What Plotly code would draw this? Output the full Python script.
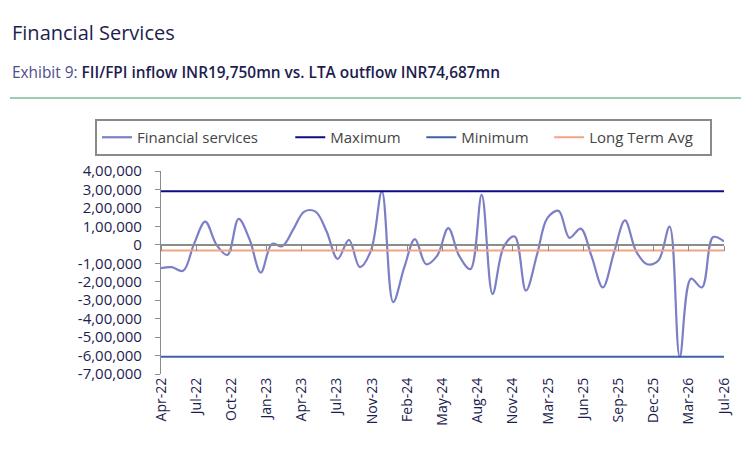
import pandas as pd
import plotly.graph_objects as go

# monthly net flows, Apr-22 .. Jul-26 (INR mn)
months = pd.date_range("2022-04-01", "2026-07-01", freq="MS")
fin_services = [
    -126000, -121000, -141000, 5000, 126000, 0, -55000, 141000, 30000,
    -150000, 5000, -8000, 85000, 180000, 180000, 75000, -76000, 27000,
    -121000, -30000, 290000, -310000, -120000, 31000, -105000, -60000,
    90000, -60000, -132000, 271000, -266000, -10000, 45000, -248000,
    -50000, 145000, 184000, 38000, 88000, -63000, -231000, -40000,
    132000, -36000, -105000, -85000, 99000, -607000, -184000, -231000,
    42000, 18000,
]
long_term_avg = -31000

y_ticks = [400000, 300000, 200000, 100000, 0, -100000, -200000, -300000,
           -400000, -500000, -600000, -700000]
y_labels = ["4,00,000", "3,00,000", "2,00,000", "1,00,000", "0", "-1,00,000",
            "-2,00,000", "-3,00,000", "-4,00,000", "-5,00,000", "-6,00,000",
            "-7,00,000"]
x_labels = ["Apr-22", "Jul-22", "Oct-22", "Jan-23", "Apr-23", "Jul-23", "Nov-23",
            "Feb-24", "May-24", "Aug-24", "Nov-24", "Mar-25", "Jun-25", "Sep-25",
            "Dec-25", "Mar-26", "Jul-26"]
x_ticks = pd.date_range("2022-04-01", periods=len(x_labels), freq="97D")

FONT = "Open Sans"
NAVY = "#1d1d4f"
GREY = "#8c8c8c"
NB = "\u00a0"  # legend spacing

# page body has an 8px margin, so the figure starts at (8, 8)
OFF = 8
W, H = 749, 450
L, T = 161 - OFF, 171 - OFF
R, B = W - (724 - OFF), H - (374 - OFF)
plot_w = W - L - R
plot_h = H - T - B


def px_x(x):
    return (x - OFF - L) / plot_w


def px_y(y):
    return 1 + (T - (y - OFF)) / plot_h


ends = [months[0], months[-1]]
maximum = max(fin_services)
minimum = min(fin_services)

fig = go.Figure()
fig.add_trace(go.Scatter(x=months, y=fin_services, mode="lines",
                         name="Financial services" + NB * 7,
                         line=dict(color="#7b7fc6", width=2.2, shape="spline", smoothing=1)))
fig.add_trace(go.Scatter(x=ends, y=[maximum, maximum], mode="lines",
                         name="Maximum" + NB * 4,
                         line=dict(color="#0c0c86", width=2)))
fig.add_trace(go.Scatter(x=ends, y=[minimum, minimum], mode="lines",
                         name="Minimum" + NB * 4,
                         line=dict(color="#3f62a6", width=2)))
fig.add_trace(go.Scatter(x=ends, y=[long_term_avg, long_term_avg], mode="lines",
                         name="Long Term Avg" + NB * 3, xaxis="x2",
                         line=dict(color="#f2a583", width=2)))

fig.update_layout(
    width=W, height=H,
    margin=dict(l=L, r=R, t=T, b=B),
    paper_bgcolor="white", plot_bgcolor="white",
    font=dict(family=FONT, color=NAVY),
    title=dict(text="Financial Services", xref="container", x=(12 - OFF) / W,
               y=1 - (33 - OFF) / H, yanchor="middle", xanchor="left",
               font=dict(size=20, color=NAVY, family=FONT, weight=500)),
    showlegend=True,
    legend=dict(orientation="h", x=px_x(95), xanchor="left",
                y=px_y(119), yanchor="top",
                bordercolor="#8a8a8a", borderwidth=2,
                font=dict(size=15, color="#454545", family=FONT),
                itemwidth=30, tracegroupgap=0),
    xaxis=dict(type="date", range=ends, tickvals=x_ticks, ticktext=x_labels,
               tickangle=-90, showgrid=False, zeroline=False, showline=False,
               ticks="", tickfont=dict(size=14, color=NAVY)),
    xaxis2=dict(type="date", matches="x", overlaying="x", anchor="free",
                position=7 / 11, side="bottom", tickvals=x_ticks,
                showticklabels=False, showgrid=False, zeroline=False,
                showline=True, linecolor=GREY, linewidth=1.5,
                ticks="outside", ticklen=5, tickcolor=GREY, tickwidth=1.2),
    yaxis=dict(range=[-700000, 400000], tickvals=y_ticks, ticktext=y_labels,
               showgrid=False, zeroline=False, showline=True, linecolor=GREY,
               linewidth=1.2, ticks="outside", ticklen=5, tickcolor=GREY,
               ticklabelstandoff=10, tickfont=dict(size=15, color=NAVY)),
)

fig.add_annotation(
    text="<span style='color:#4d4d8f'>Exhibit 9:</span> "
         "<span style='font-weight:600'>FII/FPI inflow INR19,750mn vs. LTA outflow INR74,687mn</span>",
    xref="paper", yref="paper", x=px_x(10), y=px_y(73),
    xanchor="left", yanchor="middle", showarrow=False,
    font=dict(size=15.4, color=NAVY, family=FONT),
)
fig.add_shape(type="line", xref="paper", yref="paper",
              x0=px_x(10), x1=px_x(757),
              y0=px_y(98), y1=px_y(98),
              line=dict(color="#3d9b63", width=1.2))

fig.write_html("out.html")
